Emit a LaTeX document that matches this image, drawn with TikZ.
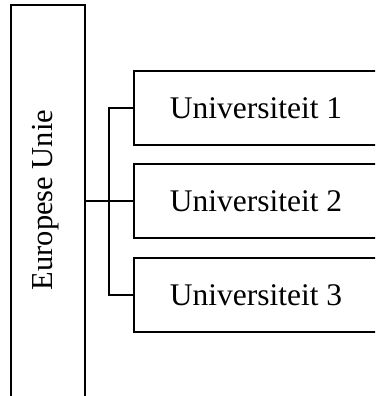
\documentclass[tikz,border=0pt]{standalone}
\usepackage{fontspec}
\setmainfont{Liberation Serif}
\begin{document}
\begin{tikzpicture}[x=1pt,y=-1pt,
  box/.style={draw,line width=2.2pt,rectangle,inner sep=0pt,font=\fontsize{31.5}{36}\selectfont},
  link/.style={line width=2.2pt}]
\useasboundingbox (0,0) rectangle (375,396);
\clip (0,0) rectangle (375,396);
\node[box,minimum width=74pt,minimum height=394pt] (eu) at (48,202) {};
\node[font=\fontsize{30.5}{36}\selectfont,rotate=90,inner sep=0pt] (eutext) at (46,200) {Europese Unie};
\node[box,minimum width=244pt,minimum height=74pt] (u1) at (256,108) {Universiteit 1};
\node[box,minimum width=244pt,minimum height=74pt] (u2) at (256,201) {Universiteit 2};
\node[box,minimum width=244pt,minimum height=74pt] (u3) at (256,295) {Universiteit 3};
\coordinate (j) at (109,201);
\draw[link] (eu.east |- u2.west) -- (u2.west);
\draw[link] (u1.west) -| (j) |- (u3.west);
\end{tikzpicture}
\end{document}
